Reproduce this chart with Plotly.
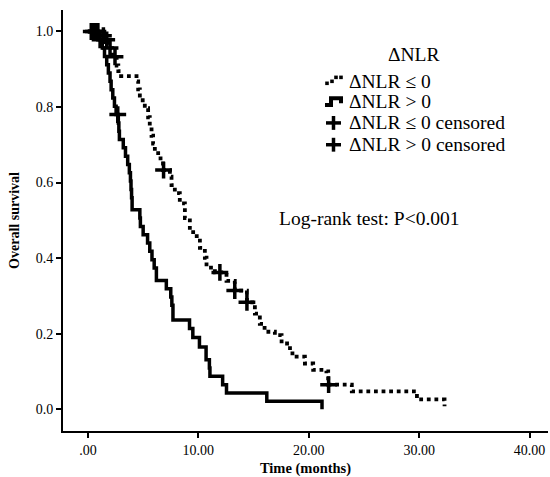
import plotly.graph_objects as go

# ---- data ----
# Kaplan-Meier steps: time (months) and survival after each step
pos_time = [0, 0.9, 1.3, 1.5, 1.7, 1.85, 2.0, 2.1, 2.25, 2.4, 2.55, 2.75, 2.8, 2.85,
            3.2, 3.4, 3.6, 3.75, 3.85, 3.9, 3.95, 4.0, 4.7, 4.75, 5.0, 5.4, 5.6, 5.8,
            6.0, 6.2, 7.1, 7.5, 7.6, 7.7, 9.2, 9.5, 10.1, 10.7, 11.0, 11.05, 12.2,
            12.55, 16.2, 21.2]
pos_surv = [1.0, 0.978, 0.956, 0.934, 0.912, 0.89, 0.868, 0.846, 0.824, 0.802, 0.78,
            0.758, 0.736, 0.714, 0.692, 0.670, 0.648, 0.626, 0.604, 0.582, 0.56, 0.528,
            0.506, 0.484, 0.462, 0.44, 0.418, 0.396, 0.374, 0.341, 0.319, 0.297, 0.275,
            0.236, 0.214, 0.19, 0.165, 0.131, 0.109, 0.087, 0.065, 0.043, 0.021, 0.0]

neg_time = [0, 1.2, 1.6, 1.9, 2.2, 2.6, 2.75, 3.0, 4.4, 4.55, 4.7, 5.15, 5.45, 5.6,
            5.76, 5.9, 6.06, 6.36, 6.8, 7.42, 7.57, 7.87, 8.32, 8.78, 9.23, 9.53,
            10.14, 10.59, 10.74, 11.5, 12.55, 13.3, 14.4, 15.12, 15.57, 16.0, 16.93,
            17.54, 18.3, 18.9, 19.65, 20.4, 21.6, 21.76, 23.9, 29.8, 32.3]
neg_surv = [1.0, 0.989, 0.978, 0.956, 0.933, 0.91, 0.895, 0.882, 0.868, 0.847, 0.818,
            0.797, 0.773, 0.75, 0.724, 0.703, 0.684, 0.664, 0.633, 0.616, 0.593, 0.572,
            0.545, 0.506, 0.48, 0.458, 0.427, 0.401, 0.375, 0.362, 0.34, 0.314, 0.283,
            0.253, 0.226, 0.205, 0.196, 0.174, 0.148, 0.139, 0.121, 0.104, 0.10, 0.065,
            0.047, 0.026, 0.008]

# censored observations
pos_cens_t = [0.3, 0.7, 1.1, 2.7]
pos_cens_s = [1.0, 1.0, 0.978, 0.78]
neg_cens_t = [0.5, 0.9, 1.4, 1.7, 2.0, 2.45, 6.85, 11.95, 13.3, 14.4, 21.8]
neg_cens_s = [1.0, 1.0, 0.989, 0.978, 0.956, 0.933, 0.633, 0.362, 0.314, 0.283, 0.065]

x_ticks = [0, 10, 20, 30, 40]
x_tick_text = [".00", "10.00", "20.00", "30.00", "40.00"]
y_ticks = [0, 0.2, 0.4, 0.6, 0.8, 1.0]
y_tick_text = ["0.0", "0.2", "0.4", "0.6", "0.8", "1.0"]

legend_title = "ΔNLR"
legend_labels = ["ΔNLR ≤ 0", "ΔNLR > 0", "ΔNLR ≤ 0 censored", "ΔNLR > 0 censored"]
annotation_text = "Log-rank test: P<0.001"

FONT = "Liberation Serif, Times New Roman, serif"
W, H = 550, 477
ML, MR, MT, MB = 63, 2, 10, 42
PW, PH = W - ML - MR, H - MT - MB


def px(x):
    return (x - ML) / PW


def py(y):
    return (H - MB - y) / PH


fig = go.Figure()

fig.add_trace(go.Scatter(x=neg_time, y=neg_surv, mode="lines", line_shape="hv",
                         line=dict(color="black", width=3.8, dash="dot"),
                         name=legend_labels[0], showlegend=False))
fig.add_trace(go.Scatter(x=pos_time, y=pos_surv, mode="lines", line_shape="hv",
                         line=dict(color="black", width=3.5),
                         name=legend_labels[1], showlegend=False))
fig.add_trace(go.Scatter(x=neg_cens_t, y=neg_cens_s, mode="markers",
                         marker=dict(symbol="cross-thin", size=12,
                                     line=dict(color="black", width=3.5)),
                         name=legend_labels[2], showlegend=False))
fig.add_trace(go.Scatter(x=pos_cens_t, y=pos_cens_s, mode="markers",
                         marker=dict(symbol="cross-thin", size=12,
                                     line=dict(color="black", width=3.5)),
                         name=legend_labels[3], showlegend=False))

shapes = []
# legend icon 1: dotted step
for (cx, cy) in [(327, 84), (332, 82), (336, 78), (341, 78)]:
    shapes.append(dict(type="rect", xref="paper", yref="paper",
                       x0=px(cx - 1.8), x1=px(cx + 1.8), y0=py(cy + 1.8), y1=py(cy - 1.8),
                       fillcolor="black", line=dict(width=0)))
# legend icon 2: solid step
path = "M {:.4f},{:.4f} L {:.4f},{:.4f} L {:.4f},{:.4f} L {:.4f},{:.4f} L {:.4f},{:.4f}".format(
    px(325), py(106), px(331), py(106), px(331), py(99), px(341), py(99), px(341), py(104))
shapes.append(dict(type="path", xref="paper", yref="paper", path=path,
                   line=dict(color="black", width=4)))
# legend icons 3 & 4: crosses
for cy in [124, 146]:
    shapes.append(dict(type="line", xref="paper", yref="paper",
                       x0=px(326), x1=px(341), y0=py(cy), y1=py(cy),
                       line=dict(color="black", width=3.5)))
    shapes.append(dict(type="line", xref="paper", yref="paper",
                       x0=px(333.5), x1=px(333.5), y0=py(cy - 7), y1=py(cy + 7),
                       line=dict(color="black", width=3.5)))

annotations = [
    dict(text=legend_title, xref="paper", yref="paper", x=px(414), y=py(55),
         xanchor="center", yanchor="middle", showarrow=False,
         font=dict(family=FONT, size=19.5, color="black")),
]
for lab, cy in zip(legend_labels, [82, 102, 124, 146]):
    annotations.append(dict(text=lab, xref="paper", yref="paper", x=px(347), y=py(cy),
                            xanchor="left", yanchor="middle", showarrow=False,
                            font=dict(family=FONT, size=19.5, color="black")))
annotations.append(dict(text=annotation_text, xref="paper", yref="paper", x=px(277), y=py(220),
                        xanchor="left", yanchor="middle", showarrow=False,
                        font=dict(family=FONT, size=19.5, color="black")))

fig.update_layout(
    width=W, height=H,
    margin=dict(l=ML, r=MR, t=MT, b=MB),
    paper_bgcolor="white", plot_bgcolor="white",
    showlegend=False,
    shapes=shapes, annotations=annotations,
    font=dict(family=FONT, color="black"),
    xaxis=dict(range=[-2.26, -2.26 + PW / 11.04], tickvals=x_ticks, ticktext=x_tick_text,
               showgrid=False, zeroline=False, showline=True, linecolor="black", linewidth=2,
               ticks="outside", ticklen=5, tickwidth=1.5, tickcolor="black",
               tickfont=dict(family=FONT, size=14, color="black"),
               title=dict(text="<b>Time (months)</b>", font=dict(family=FONT, size=14.5, color="black"),
                          standoff=7)),
    yaxis=dict(range=[-0.0577, 1.0569], tickvals=y_ticks, ticktext=y_tick_text,
               showgrid=False, zeroline=False, showline=True, linecolor="black", linewidth=2,
               ticks="outside", ticklen=5, tickwidth=1.5, tickcolor="black",
               tickfont=dict(family=FONT, size=14, color="black"),
               title=dict(text="<b>Overall survival</b>", font=dict(family=FONT, size=14, color="black"),
                          standoff=13)),
)

fig.write_html("out.html", config={"displayModeBar": False},
               post_script="document.body.style.margin='0px';")
